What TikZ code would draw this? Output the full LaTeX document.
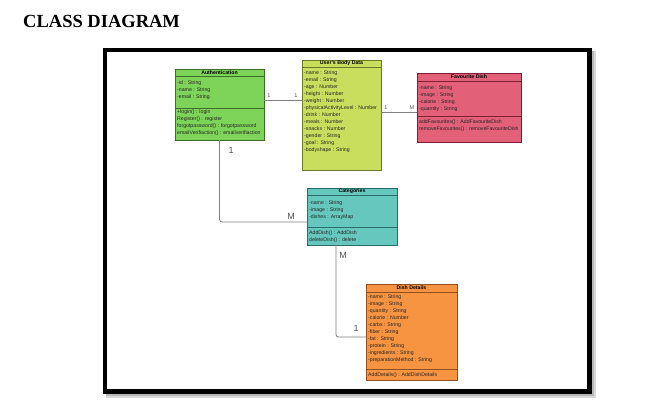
\documentclass[tikz,border=0pt]{standalone}
\usepackage{fontspec}
\setmainfont{Liberation Sans}
\newfontfamily\titlefont{Liberation Serif}
\usetikzlibrary{calc}
\definecolor{authfill}{RGB}{126,212,88}
\definecolor{authline}{RGB}{60,110,40}
\definecolor{ubdfill}{RGB}{200,222,92}
\definecolor{ubdline}{RGB}{110,120,40}
\definecolor{favfill}{RGB}{226,96,120}
\definecolor{favline}{RGB}{130,30,50}
\definecolor{catfill}{RGB}{102,199,190}
\definecolor{catline}{RGB}{40,110,105}
\definecolor{dishfill}{RGB}{247,148,66}
\definecolor{dishline}{RGB}{150,80,30}
\definecolor{conncol}{RGB}{128,128,128}
\definecolor{labcol}{RGB}{85,85,85}
\tikzset{
  classbox/.style={line width=0.6pt, anchor=north west, inner sep=0pt, outer sep=0pt},
  sepline/.style={line width=0.6pt},
  member/.style={font=\fontsize{5.2}{7}\selectfont, inner sep=0pt, anchor=north west, align=left, text=black!85},
  ctitle/.style={font=\fontsize{5.2}{7}\selectfont\bfseries, inner sep=0pt, anchor=center},
  conn/.style={draw=conncol, line width=0.8pt},
  multsmall/.style={font=\fontsize{5.5}{6}\selectfont, text=labcol, inner sep=0pt},
  multbig/.style={font=\fontsize{9}{10}\selectfont, text=labcol, inner sep=0pt},
}
\begin{document}
\begin{tikzpicture}[x=1pt, y=-1pt]
\useasboundingbox (0,0) rectangle (661,409);
\fill[white] (0,0) rectangle (661,409);
% title
\node[anchor=base west, inner sep=0pt, font=\titlefont\fontsize{18.5}{20}\selectfont\bfseries] (title) at (23,28) {CLASS DIAGRAM};
% frame with shadow
\fill[black!15] (106,51) rectangle (596,398);
\fill[black!28] (106,51) rectangle (594,396);
\node[draw=black, fill=white, line width=4.5pt, minimum width=484.5pt, minimum height=341.5pt, anchor=north west, inner sep=0pt, outer sep=0pt] (frame) at (105,50) {};

% Authentication
\node[classbox, fill=authfill, draw=authline, minimum width=89pt, minimum height=71pt] (auth) at (175,69) {};
\draw[sepline, authline] ($(auth.north west)+(0,7)$) -- ($(auth.north east)+(0,7)$);
\draw[sepline, authline] ($(auth.north west)+(0,39)$) -- ($(auth.north east)+(0,39)$);
\node[ctitle] (authT) at ($(auth.north)+(0,3.6)$) {Authentication};
\node[member] (authA) at (177,80.2) {-id : String\\-name : String\\-email : String};
\node[member] (authM) at (177,110) {+login() : login\\Register() : register\\forgotpassword() : forgotpassword\\emailVerifiaction() : emailverifiaction};

% User's Body Data
\node[classbox, fill=ubdfill, draw=ubdline, minimum width=79pt, minimum height=110pt] (ubd) at (302,60) {};
\draw[sepline, ubdline] ($(ubd.north west)+(0,7)$) -- ($(ubd.north east)+(0,7)$);
\node[ctitle] (ubdT) at ($(ubd.north)+(0,3.6)$) {User's Body Data};
\node[member] (ubdA) at (304,70.6) {-name : String\\-email : String\\-age : Number\\-height : Number\\-weight : Number\\-physicalActivityLevel : Number\\-drink : Number\\-meals : Number\\-snacks : Number\\-gender : String\\-goal : String\\-bodyshape : String};

% Favourite Dish
\node[classbox, fill=favfill, draw=favline, minimum width=104pt, minimum height=69pt] (fav) at (417,73) {};
\draw[sepline, favline] ($(fav.north west)+(0,8)$) -- ($(fav.north east)+(0,8)$);
\draw[sepline, favline] ($(fav.north west)+(0,43.5)$) -- ($(fav.north east)+(0,43.5)$);
\node[ctitle] (favT) at ($(fav.north)+(0,4)$) {Favourite Dish};
\node[member] (favA) at (419,85.1) {-name : String\\-image : String\\-calorie : String\\-quantity : String};
\node[member] (favM) at (419,119.6) {addFavourites() : AddFavouriteDish\\removeFavourites() : removeFavouriteDish};

% Categories
\node[classbox, fill=catfill, draw=catline, minimum width=90pt, minimum height=57pt] (cat) at (307,188) {};
\draw[sepline, catline] ($(cat.north west)+(0,7)$) -- ($(cat.north east)+(0,7)$);
\draw[sepline, catline] ($(cat.north west)+(0,39)$) -- ($(cat.north east)+(0,39)$);
\node[ctitle] (catT) at ($(cat.north)+(0,3.6)$) {Categories};
\node[member] (catA) at (309,200.1) {-name : String\\-image : String\\-dishes : ArrayMap};
\node[member] (catM) at (309,230.1) {AddDish() : AddDish\\deleteDish() : delete};

% Dish Details
\node[classbox, fill=dishfill, draw=dishline, minimum width=91pt, minimum height=96pt] (dish) at (366,284) {};
\draw[sepline, dishline] ($(dish.north west)+(0,8)$) -- ($(dish.north east)+(0,8)$);
\draw[sepline, dishline] ($(dish.north west)+(0,85)$) -- ($(dish.north east)+(0,85)$);
\node[ctitle] (dishT) at ($(dish.north)+(0,4)$) {Dish Details};
\node[member] (dishA) at (368,294.1) {-name : String\\-image : String\\-quantity : String\\-calorie : Number\\-carbs : String\\-fiber : String\\-fat : String\\-protein : String\\-ingredients : String\\-preparationMethod : String};
\node[member] (dishM) at (368,372.6) {AddDetails() : AddDishDetails};

% connectors
\draw[conn] (auth.east |- 0,100) -- (ubd.west |- 0,100);
\node[multsmall] (m1) at (269,96) {1};
\node[multsmall] (m2) at (296,96) {1};
\draw[conn] (ubd.east |- 0,112) -- (fav.west |- 0,112);
\node[multsmall] (m3) at (386,108) {1};
\node[multsmall] (m4) at (412,108) {M};
\draw[conn, rounded corners=2.5pt] (auth.south) |- (cat.west |- 0,222);
\node[multbig] (m5) at (231,150) {1};
\node[multbig] (m6) at (291,216) {M};
\draw[conn, rounded corners=2.5pt] (cat.south -| 336,0) |- (dish.west |- 0,337);
\node[multbig] (m7) at (343,255) {M};
\node[multbig] (m8) at (356,328) {1};
\end{tikzpicture}
\end{document}
